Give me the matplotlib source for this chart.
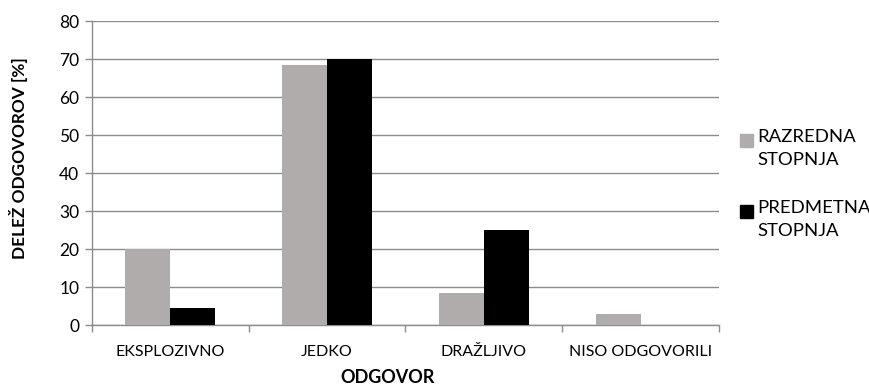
import matplotlib
matplotlib.use("Agg")
import matplotlib.pyplot as plt
import matplotlib.patches as mpatches
import numpy as np

plt.rcParams['font.family'] = ['Lato', 'DejaVu Sans']

categories = ["EKSPLOZIVNO", "JEDKO", "DRAŽLJIVO", "NISO ODGOVORILI"]
razredna = [20, 68.4, 8.4, 3]
predmetna = [4.5, 70, 25, 0]
series_names = ["RAZREDNA\nSTOPNJA", "PREDMETNA\nSTOPNJA"]
yticks = list(range(0, 81, 10))

gray = "#b0acab"
black = "#000000"
gridc = "#8c8c8c"
colors = [gray, black]

fig = plt.figure(figsize=(8.69, 3.86), dpi=100)
ax = fig.add_axes([0.1055, 0.1573, 0.7219, 0.7875])

x = np.arange(len(categories))
w = 0.286
ax.bar(x - w / 2, razredna, w, color=gray, zorder=3)
ax.bar(x + w / 2, predmetna, w, color=black, zorder=3)

ax.set_xlim(-0.5, len(categories) - 0.5)
ax.set_ylim(0, 80)
ax.set_yticks(yticks)
ax.yaxis.grid(True, color=gridc, linewidth=1, zorder=0)

# category boundaries as major ticks, labels at centres
ax.set_xticks(np.arange(len(categories) + 1) - 0.5)
ax.set_xticklabels([])
ax.set_xticks(x, minor=True)
ax.set_xticklabels(categories, minor=True)
ax.tick_params(axis='x', which='major', length=5, color=gridc, width=1)
ax.tick_params(axis='x', which='minor', length=0, pad=14, labelsize=11.5)
ax.tick_params(axis='y', length=5, color=gridc, width=1, labelsize=12.5, pad=4)

for s in ['top', 'right']:
    ax.spines[s].set_visible(False)
for s in ['left', 'bottom']:
    ax.spines[s].set_color(gridc)
    ax.spines[s].set_linewidth(1)

fig.text(0.021, 0.59, "DELEŽ ODGOVOROV [%]", rotation=90, ha='center', va='center',
         fontsize=12.4, fontweight='bold')
fig.text(0.446, 0.021, "ODGOVOR", ha='center', va='center', fontsize=13, fontweight='bold')

# legend drawn by hand so the square sits on the first text line
leg_y = [1 - 140.5 / 386, 1 - 211.5 / 386]
for name, c, yy in zip(series_names, colors, leg_y):
    fig.add_artist(mpatches.Rectangle((740 / 869, yy - 6.5 / 386), 13 / 869, 13 / 386,
                                      transform=fig.transFigure, color=c))
    fig.text(757 / 869, yy + 11 / 386, name, ha='left', va='top', fontsize=13.3,
             linespacing=1.5)

fig.savefig("out.png", dpi=100)
